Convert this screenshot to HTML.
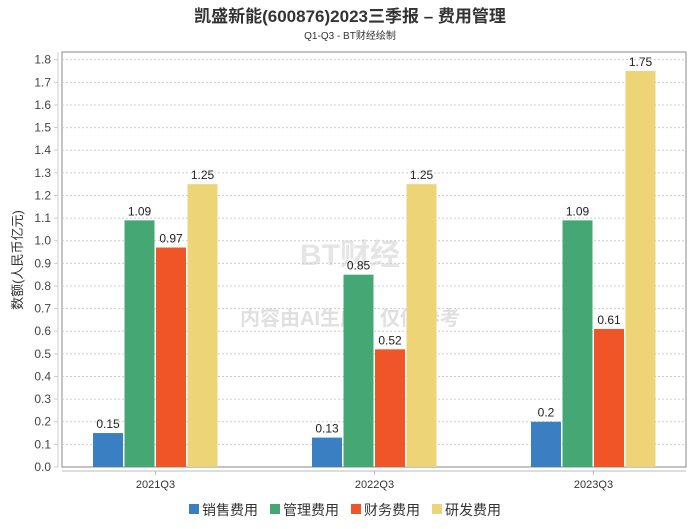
<!DOCTYPE html>
<html><head><meta charset="utf-8"><style>
body{margin:0;background:#fff;font-family:"Liberation Sans","Noto Sans CJK SC",sans-serif}
</style></head><body>
<svg width="700" height="524" xmlns="http://www.w3.org/2000/svg" font-family="Liberation Sans, Noto Sans CJK SC, sans-serif">
<text x="350" y="22" text-anchor="middle" font-size="17" font-weight="bold" fill="#333">凯盛新能(600876)2023三季报 – 费用管理</text>
<text x="350" y="39" text-anchor="middle" font-size="10" fill="#333">Q1-Q3 - BT财经绘制</text>
<rect x="62" y="52" width="624" height="415" fill="none" stroke="#888"/>
<line x1="58" y1="52" x2="58" y2="467" stroke="#ccc"/>
<line x1="62" y1="471" x2="686" y2="471" stroke="#bbb"/>
<text transform="translate(22,260) rotate(-90)" text-anchor="middle" font-size="13" fill="#333">数额(人民币亿元)</text>
<text x="350" y="265" text-anchor="middle" font-size="30" fill="#ccc" opacity="0.5" font-weight="bold">BT财经</text>
<text x="350" y="325" text-anchor="middle" font-size="20" fill="#ccc" opacity="0.6" font-weight="bold">内容由AI生成，仅供参考</text>
<g id="g"></g>
<g id="legend"></g>
</svg>
<script>
const categories=["2021Q3","2022Q3","2023Q3"];
const seriesNames=["销售费用","管理费用","财务费用","研发费用"];
const colors=["#3a7fc1","#45a874","#f05528","#edd577"];
const sales=[0.15,0.13,0.2];
const admin=[1.09,0.85,1.09];
const finance=[0.97,0.52,0.61];
const rnd=[1.25,1.25,1.75];
const labels=[["0.15","0.13","0.2"],["1.09","0.85","1.09"],["0.97","0.52","0.61"],["1.25","1.25","1.75"]];
const yTicks=[0,0.1,0.2,0.3,0.4,0.5,0.6,0.7,0.8,0.9,1.0,1.1,1.2,1.3,1.4,1.5,1.6,1.7,1.8];
const series=[sales,admin,finance,rnd];
const NS="http://www.w3.org/2000/svg";
const g=document.getElementById('g');
const y=v=>467-v*(407.3/1.8);
const xc=i=>155.5+219*i;
function mk(t,a,txt){const e=document.createElementNS(NS,t);for(const k in a)e.setAttribute(k,a[k]);if(txt!==undefined)e.textContent=txt;g.appendChild(e);return e;}
yTicks.forEach(t=>{
  if(t>0){const l=mk('line',{x1:62,x2:686,y1:y(t),y2:y(t),stroke:'#ccc','stroke-dasharray':'2,2'});
  
  }
  const tk=mk('line',{x1:54,x2:58,y1:y(t),y2:y(t),stroke:'#ccc'});
  
  
  const tx=mk('text',{x:51,y:y(t)+4,'text-anchor':'end','font-size':12,fill:'#444'},t.toFixed(1));
  
  
});
categories.forEach((c,i)=>{
  const tk=mk('line',{x1:xc(i),x2:xc(i),y1:471,y2:475,stroke:'#bbb'});
  
  
  const tx=mk('text',{x:xc(i),y:488,'text-anchor':'middle','font-size':11,fill:'#333'},c);
  
  
  series.forEach((s,j)=>{
    const x=xc(i)-62.5+j*31.5;
    const r=mk('rect',{x:x,y:y(s[i]),width:30,height:467-y(s[i]),fill:colors[j]});
    
    
    const l=mk('text',{x:x+15,y:y(s[i])-5,'text-anchor':'middle','font-size':12,fill:'#222'},labels[j][i]);
    
    
  });
});
let lx=189;
seriesNames.forEach((n,j)=>{
  const r=mk('rect',{x:lx,y:504,width:10,height:10,fill:colors[j]});
  
  
  const t=mk('text',{x:lx+13,y:515,'font-size':14,fill:'#333'},n);
  
  
  lx+=81;
});
</script>
</body></html>
